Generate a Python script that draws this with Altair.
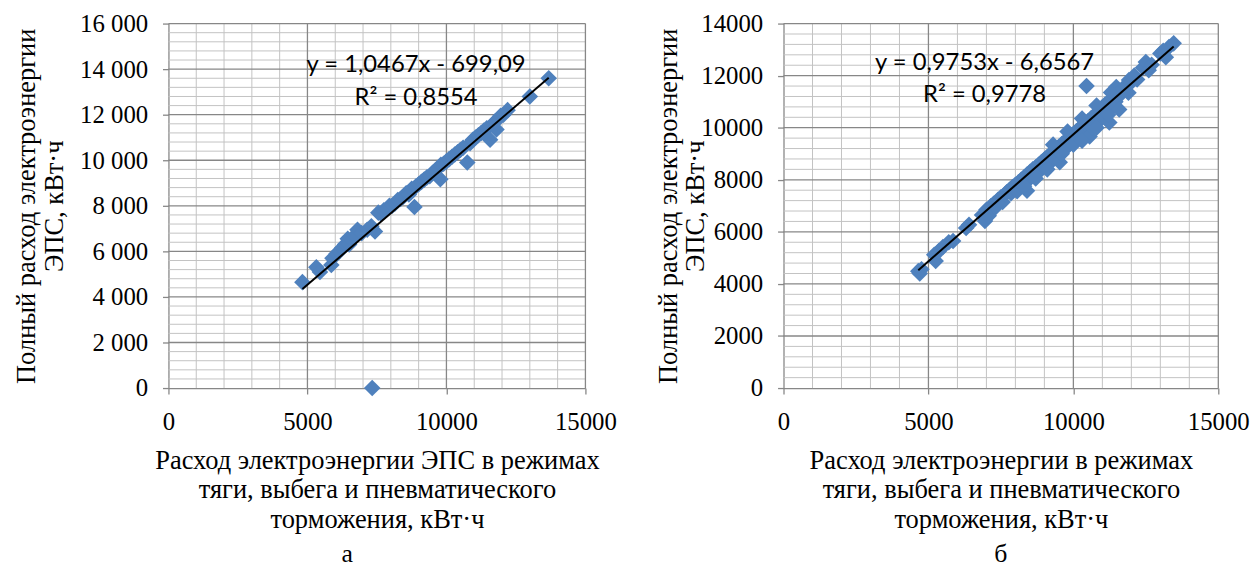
import altair as alt
import pandas as pd

# ---------------- data ----------------
# panel "а"
xa = [4820, 5320, 5450, 5860, 5900, 6050, 6150, 6250, 6350, 6450, 6500, 6600, 6700, 6800,
      6950, 7150, 7300, 7430, 7550, 7650, 7750, 7850, 7950, 8050, 8150, 8250, 8350, 8450,
      8550, 8650, 8750, 8850, 8900, 9000, 9100, 9200, 9300, 9400, 9500, 9600, 9700, 9780,
      9800, 9900, 10000, 10100, 10200, 10300, 10400, 10500, 10600, 10750, 10850, 10950,
      11050, 11150, 11250, 11350, 11450, 11570, 11800, 11750, 11850, 11950, 12050, 12200,
      13000, 13680, 7330]
ya = [4650, 5300, 5100, 5400, 5700, 5900, 6000, 6150, 6300, 6550, 6300, 6500, 6700, 6950,
      6800, 6950, 7100, 6870, 7700, 7650, 7800, 7850, 8000, 8000, 8100, 8250, 8300, 8400,
      8550, 8500, 8750, 7950, 8850, 8950, 9050, 9150, 9250, 9300, 9450, 9550, 9650, 9170,
      9800, 9850, 9950, 10050, 10150, 10250, 10350, 10450, 10550, 9900, 10750, 10900,
      11000, 11100, 11200, 11300, 11400, 10900, 11350, 11700, 11800, 11950, 12000, 12200,
      12800, 13600, 0]

# panel "б"
xb = [4650, 4700, 4760, 5200, 5250, 5350, 5500, 5700, 5850, 6300, 6400, 6850, 6950, 7000,
      7080, 7150, 7250, 7320, 7400, 7500, 7560, 7650, 7700, 7800, 7850, 7900, 8000, 8060,
      8100, 8160, 8200, 8260, 8300, 8400, 8400, 8460, 8500, 8560, 8600, 8660, 8700, 8760,
      8800, 8850, 8900, 8950, 9000, 9060, 9100, 9160, 9200, 9260, 9300, 9360, 9400, 9460,
      9500, 9530, 9560, 9600, 9660, 9700, 9760, 9800, 9860, 9900, 9960, 10000, 10060, 10100,
      10160, 10200, 10260, 10300, 10360, 10400, 10454, 10500, 10560, 10600, 10660, 10700,
      10760, 10800, 10860, 10900, 10960, 11000, 11060, 11100, 11160, 11240, 11250, 11300,
      11360, 11450, 11480, 11500, 11580, 11650, 11700, 11800, 11900, 11920, 12000, 12100,
      12200, 12400, 12500, 12600, 12700, 13000, 13190, 13300, 13460, 13100,
      8300, 8700, 9100, 9600, 10000, 10300, 10800, 11200, 9300, 9800, 10300, 10800, 11300]
yb = [4490, 4400, 4560, 5120, 4880, 5250, 5420, 5600, 5650, 6150, 6270, 6650, 6420, 6850,
      6620, 6980, 7080, 6950, 7230, 7330, 7150, 7450, 7520, 7620, 7480, 7720, 7810, 7560,
      7900, 7750, 8000, 7820, 8100, 7580, 8200, 8000, 8300, 8150, 8400, 8180, 8480, 8300,
      8580, 8350, 8680, 8500, 8780, 8550, 8880, 8650, 8970, 8720, 9070, 8850, 9170, 8920,
      9270, 8670, 9050, 9370, 9150, 9470, 9250, 9560, 9350, 9660, 9420, 9760, 9500, 9860,
      9600, 9960, 9700, 10060, 9800, 10150, 11600, 10250, 9660, 10350, 10000, 10450,
      10150, 10550, 10250, 10650, 10350, 10780, 10450, 10900, 10600, 10200, 11000, 10750,
      11150, 11000, 11560, 11250, 10700, 11300, 11500, 11600, 11340, 11830, 11750, 12000,
      11850, 12300, 12520, 12210, 12420, 12850, 12710, 13100, 13240, 12950,
      7750, 8050, 8400, 9000, 9350, 9500, 10000, 10500, 9350, 9850, 10350, 10850, 11350]

# trend-line coefficients (as printed on the chart)
slope_a, icpt_a = 1.0467, -699.09
slope_b, icpt_b = 0.9753, -6.6567
eq_a = ["y = 1,0467x - 699,09", "R² = 0,8554"]
eq_b = ["y = 0,9753x - 6,6567", "R² = 0,9778"]

x_ticks = [0, 5000, 10000, 15000]
ya_ticks = [0, 2000, 4000, 6000, 8000, 10000, 12000, 14000, 16000]
yb_ticks = [0, 2000, 4000, 6000, 8000, 10000, 12000, 14000]

ytitle_a = ["Полный расход электроэнергии", "ЭПС, кВт·ч"]
ytitle_b = ["Полный расход электроэнергии", "ЭПС, кВт·ч"]
xtitle_a = ["Расход электроэнергии ЭПС в режимах", "тяги, выбега и пневматического", "торможения, кВт·ч"]
xtitle_b = ["Расход электроэнергии в режимах", "тяги, выбега и пневматического", "торможения, кВт·ч"]
letters = ["а", "б"]

SERIF = "Liberation Serif"
SANS = "Lato"
BLUE = "#4F81BD"
MAJOR = "#878787"
MINOR = "#C2C2C2"
H = 368


def panel(x, y, slope, icpt, ymax, yticks, label_expr, ytitle, xtitle, eq, eq_pos,
          letter, letter_dx, width, ytitle_pad):
    df = pd.DataFrame({"x": x, "y": y})
    xmin, xmax = min(x), max(x)
    line_df = pd.DataFrame({"x": [xmin, xmax],
                            "y": [slope * xmin + icpt, slope * xmax + icpt]})
    xs = alt.Scale(domain=[0, 15000], nice=False, zero=False)
    ys = alt.Scale(domain=[0, ymax], nice=False, zero=False)
    xax = alt.Axis(values=x_ticks, format="d", title=xtitle,
                   titleLineHeight=30, titlePadding=13, labelPadding=16)
    yax = alt.Axis(values=yticks, labelExpr=label_expr, title=ytitle,
                   titleLineHeight=28, titlePadding=ytitle_pad, labelPadding=15)

    minor_x = pd.DataFrame({"v": [v for v in range(0, 15001, 1000) if v % 5000]})
    minor_y = pd.DataFrame({"v": [v for v in range(0, ymax + 1, 400) if v % 2000]})
    major_x = pd.DataFrame({"v": [v for v in x_ticks if v > 0]})
    major_y = pd.DataFrame({"v": [v for v in yticks if v > 0]})

    gx_min = alt.Chart(minor_x).mark_rule(color=MINOR, strokeWidth=1).encode(
        x=alt.X("v:Q", scale=xs, axis=xax), y=alt.value(0), y2=alt.value(H))
    gy_min = alt.Chart(minor_y).mark_rule(color=MINOR, strokeWidth=1).encode(
        y=alt.Y("v:Q", scale=ys, axis=yax), x=alt.value(0), x2=alt.value(width))
    gx_maj = alt.Chart(major_x).mark_rule(color=MAJOR, strokeWidth=1.3).encode(
        x=alt.X("v:Q", scale=xs, axis=xax), y=alt.value(0), y2=alt.value(H))
    gy_maj = alt.Chart(major_y).mark_rule(color=MAJOR, strokeWidth=1.3).encode(
        y=alt.Y("v:Q", scale=ys, axis=yax), x=alt.value(0), x2=alt.value(width))

    pts = alt.Chart(df).mark_point(shape="diamond", filled=True, color=BLUE,
                                   opacity=1, size=280).encode(
        x=alt.X("x:Q", scale=xs, axis=xax),
        y=alt.Y("y:Q", scale=ys, axis=yax),
    )
    line = alt.Chart(line_df).mark_line(color="black", strokeWidth=2).encode(
        x=alt.X("x:Q", scale=xs, axis=xax), y=alt.Y("y:Q", scale=ys, axis=yax))

    t1 = alt.Chart(pd.DataFrame({"t": [eq[0]]})).mark_text(
        font=SANS, fontSize=24, color="black", baseline="middle", align="center").encode(
        text="t:N", x=alt.value(eq_pos[0]), y=alt.value(eq_pos[1]))
    t2 = alt.Chart(pd.DataFrame({"t": [eq[1]]})).mark_text(
        font=SANS, fontSize=24, color="black", baseline="middle", align="center").encode(
        text="t:N", x=alt.value(eq_pos[0]), y=alt.value(eq_pos[2]))

    return alt.layer(gx_min, gy_min, gx_maj, gy_maj, pts, line, t1, t2).properties(
        width=width, height=H,
        title=alt.TitleParams(letter, orient="bottom", font=SERIF, fontSize=26,
                              fontWeight="normal", color="black", offset=8,
                              dx=letter_dx),
    )


left = panel(xa, ya, slope_a, icpt_a, 16000, ya_ticks,
             "replace(format(datum.value, ','), ',', ' ')",
             ytitle_a, xtitle_a, eq_a, (250, 42, 75), letters[0], -30, 421, 11)
right = panel(xb, yb, slope_b, icpt_b, 14000, yb_ticks,
              "format(datum.value, 'd')",
              ytitle_b, xtitle_b, eq_b, (203, 40, 72), letters[1], 0, 439, -9)

chart = alt.hconcat(left, right, spacing=38).properties(
    padding={"left": 6, "top": 1, "right": 0, "bottom": 2}
).configure_view(stroke=None).configure_axis(
    labelFont=SERIF, labelFontSize=25, labelColor="black",
    titleFont=SERIF, titleFontSize=26.7, titleFontWeight="normal", titleColor="black",
    domainColor=MAJOR, domainWidth=1.3, tickColor=MAJOR, tickWidth=1.3, tickSize=6,
    grid=False, labelFlush=False, labelOverlap=False,
)

chart.save("out.html", embed_options={"renderer": "svg", "actions": False})
